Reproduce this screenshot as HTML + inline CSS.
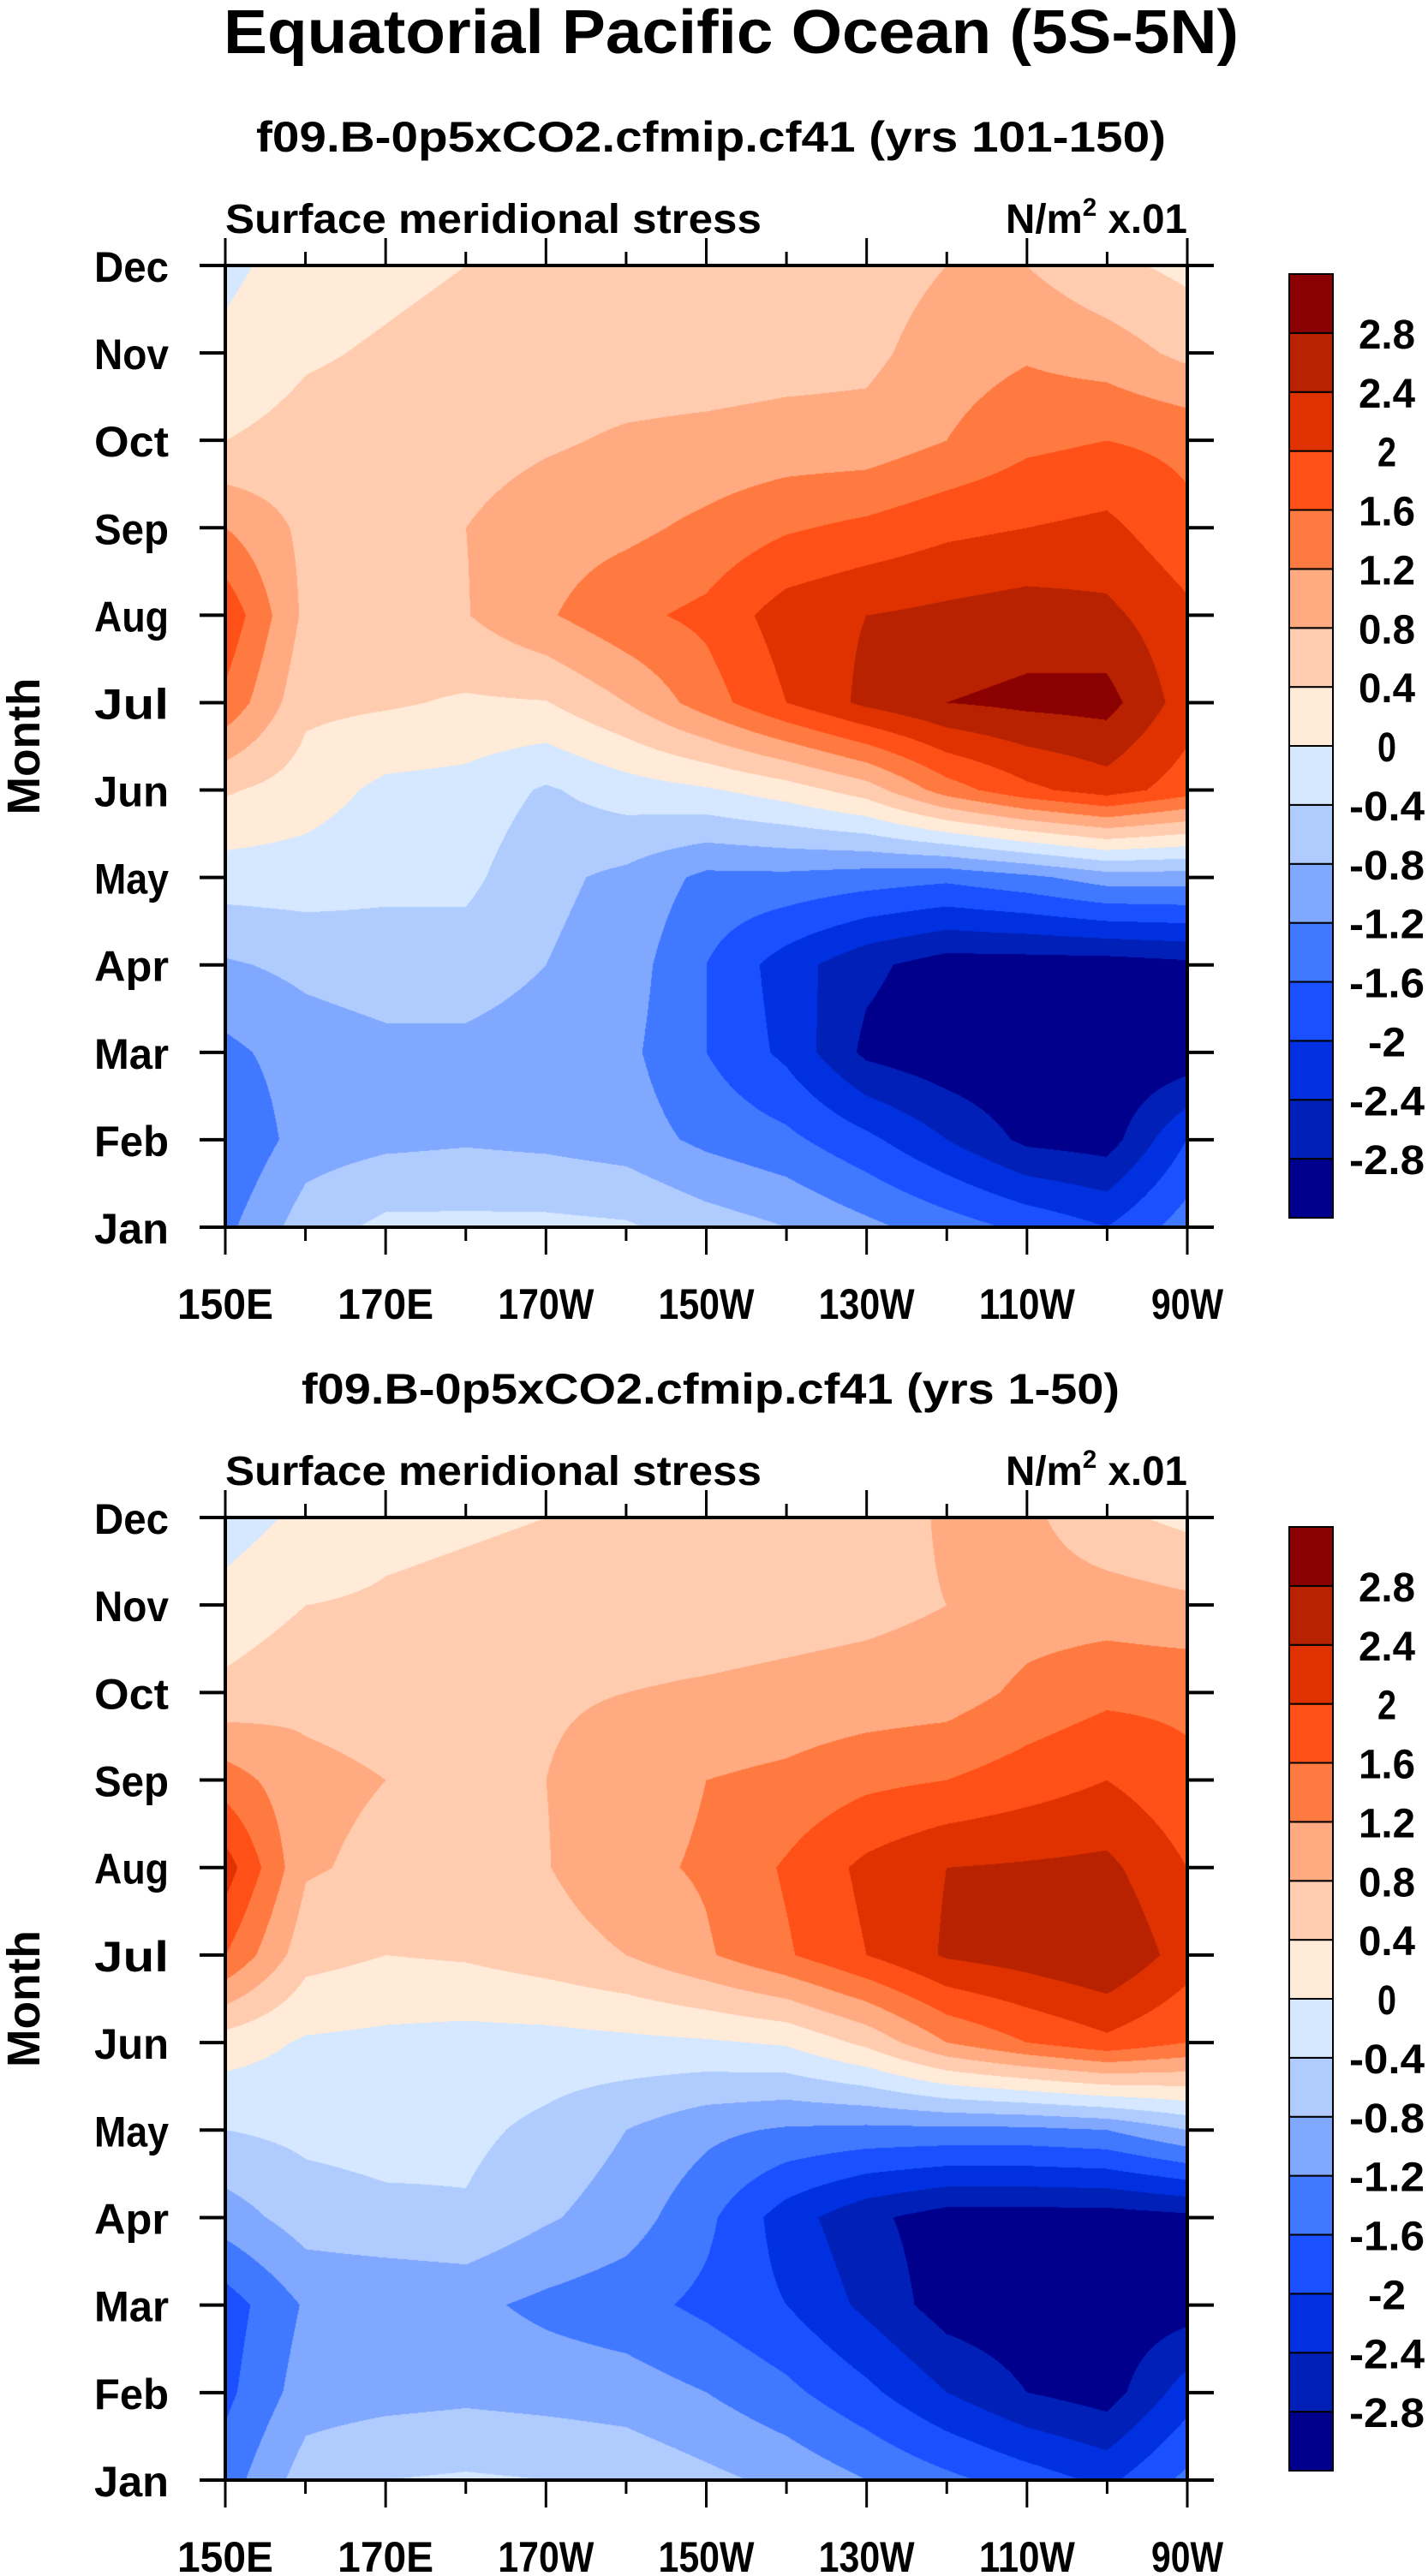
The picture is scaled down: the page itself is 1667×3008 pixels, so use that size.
<!DOCTYPE html>
<html><head><meta charset="utf-8">
<style>
html,body{margin:0;padding:0;background:#fff;}
#wrap{position:relative;width:1667px;height:3008px;overflow:hidden;background:#fff;}
canvas{position:absolute;}
svg{position:absolute;left:0;top:0;}
text{font-family:"Liberation Sans",sans-serif;font-weight:bold;fill:#000;}
</style></head>
<body>
<div id="wrap">
<canvas id="c1" width="1123" height="1123" style="left:263px;top:310px;"></canvas>
<canvas id="c2" width="1123" height="1124" style="left:263px;top:1772px;"></canvas>
<svg id="svg" width="1667" height="3008"></svg>
</div>
<script>
const months = ["Jan","Feb","Mar","Apr","May","Jun","Jul","Aug","Sep","Oct","Nov","Dec"];
const lonLabels = ["150E","170E","170W","150W","130W","110W","90W"];
const levels = [-2.8,-2.4,-2,-1.6,-1.2,-0.8,-0.4,0,0.4,0.8,1.2,1.6,2,2.4,2.8];
const levelLabels = ["-2.8","-2.4","-2","-1.6","-1.2","-0.8","-0.4","0","0.4","0.8","1.2","1.6","2","2.4","2.8"];
const colors = ["#00008c","#0020b8","#0030e0","#1a50ff","#4078ff","#80a8ff","#b0ccff","#d5e8ff","#ffebd8","#ffccb0","#ffaa80","#ff7a40","#ff5018","#e03200","#b82200","#8b0000"];
// longitudes 150E..90W every 10 deg (13 columns); rows Jan..Dec
const dataTop = [
 [-1.3,-0.6,-0.3,-0.3,-0.3,-0.35,-0.6,-0.8,-1.1,-1.4,-1.7,-2.0,-1.4],
 [-1.6,-1.0,-0.9,-0.85,-0.9,-1.0,-1.3,-1.5,-1.9,-2.4,-2.9,-3.0,-2.0],
 [-1.3,-1.0,-0.9,-0.9,-1.0,-1.1,-1.6,-2.1,-2.9,-3.1,-3.2,-3.2,-3.1],
 [-0.85,-0.7,-0.6,-0.6,-0.8,-1.0,-1.6,-2.2,-2.7,-3.0,-3.0,-3.0,-2.9],
 [-0.2,-0.2,-0.3,-0.3,-0.7,-0.9,-1.3,-1.3,-1.4,-1.5,-1.3,-1.0,-1.0],
 [0.45,0.2,-0.1,-0.15,-0.45,-0.2,-0.05,0.2,0.6,1.4,1.9,2.2,1.8],
 [1.5,0.5,0.45,0.35,0.38,0.8,1.4,2.0,2.5,2.8,2.9,2.95,2.2],
 [1.9,0.7,0.6,0.78,1.15,1.5,1.7,2.2,2.4,2.5,2.6,2.5,2.1],
 [1.2,0.7,0.7,0.8,1.0,1.1,1.3,1.55,1.7,1.9,2.0,2.1,1.7],
 [0.4,0.55,0.6,0.65,0.75,0.85,0.9,0.95,0.95,1.2,1.5,1.6,1.5],
 [0.1,0.35,0.45,0.55,0.6,0.6,0.6,0.65,0.7,1.0,1.15,1.0,0.7],
 [-0.1,0.2,0.3,0.4,0.45,0.5,0.55,0.6,0.6,0.8,0.8,0.5,0.3]
];
const dataBottom = [
 [-1.4,-0.6,-0.4,-0.35,-0.4,-0.5,-0.7,-0.9,-1.2,-1.5,-1.8,-2.1,-1.5],
 [-1.7,-1.0,-0.95,-0.9,-0.95,-1.0,-1.2,-1.5,-1.9,-2.4,-2.8,-3.0,-2.2],
 [-1.8,-1.15,-1.15,-1.1,-1.3,-1.45,-1.7,-2.0,-2.5,-3.0,-3.1,-3.1,-3.0],
 [-1.0,-0.6,-0.5,-0.45,-0.75,-1.0,-1.5,-2.2,-2.7,-3.0,-3.0,-3.0,-2.9],
 [-0.4,-0.3,-0.25,-0.3,-0.5,-0.8,-1.1,-1.25,-1.3,-1.3,-1.3,-1.2,-0.8],
 [0.2,-0.05,-0.1,-0.15,-0.15,-0.1,-0.05,0.05,0.5,1.2,1.6,1.9,1.6],
 [1.6,0.55,0.4,0.45,0.6,0.8,1.15,1.55,2.0,2.45,2.6,2.8,2.2],
 [2.2,0.85,0.7,0.7,0.78,1.1,1.25,1.65,2.1,2.4,2.45,2.5,2.0],
 [1.4,0.9,0.8,0.78,0.8,1.0,1.2,1.3,1.5,1.6,1.8,2.0,1.7],
 [0.5,0.7,0.65,0.7,0.75,0.8,0.85,0.9,0.95,1.0,1.3,1.5,1.5],
 [0.15,0.4,0.45,0.5,0.55,0.6,0.6,0.65,0.7,0.8,1.0,1.0,0.9],
 [-0.2,0.1,0.3,0.35,0.4,0.45,0.5,0.55,0.6,0.85,0.9,0.5,0.3]
];

const PL=263, PR=1386, PW=PR-PL;
const NS="http://www.w3.org/2000/svg";
const svg=document.getElementById('svg');
function mk(tag,attrs,parent){const e=document.createElementNS(NS,tag);for(const k in attrs)e.setAttribute(k,attrs[k]);(parent||svg).appendChild(e);return e;}
function txt(s,attrs,name){const t=mk('text',attrs);t.textContent=s;


return t;}
function colorIdx(v){let i=0;while(i<levels.length&&v>=levels[i])i++;return i;}
function hex(c){return [parseInt(c.substr(1,2),16),parseInt(c.substr(3,2),16),parseInt(c.substr(5,2),16)];}
const rgb=colors.map(hex);

function drawField(id,data){
 const cv=document.getElementById(id);const W=cv.width,H=cv.height;
 const ctx=cv.getContext('2d');const img=ctx.createImageData(W,H);
 const nc=data[0].length-1, nr=data.length-1;
 for(let py=0;py<H;py++){
  const fr=(H-1-py)/(H-1)*nr; let r0=Math.floor(fr); if(r0>=nr)r0=nr-1; const ty=fr-r0;
  for(let px=0;px<W;px++){
   const fc=px/(W-1)*nc; let c0=Math.floor(fc); if(c0>=nc)c0=nc-1; const tx=fc-c0;
   const v=(data[r0][c0]*(1-tx)+data[r0][c0+1]*tx)*(1-ty)+(data[r0+1][c0]*(1-tx)+data[r0+1][c0+1]*tx)*ty;
   const c=rgb[colorIdx(v)];const o=(py*W+px)*4;
   img.data[o]=c[0];img.data[o+1]=c[1];img.data[o+2]=c[2];img.data[o+3]=255;
  }
 }
 ctx.putImageData(img,0,0);
}
drawField('c1',dataTop);
drawField('c2',dataBottom);

txt("Equatorial Pacific Ocean (5S-5N)",{x:261,y:62,'font-size':72,textLength:1185,lengthAdjust:'spacingAndGlyphs'},'main-title');

function panel(top,bottom,sub,cbTop,prefix){
 const H=bottom-top;
 const ym=m=>bottom-m*H/11;
 txt(sub,{x:(prefix==='top'?299:352),y:top-133,'font-size':50,textLength:(prefix==='top'?1062:955),lengthAdjust:'spacingAndGlyphs'},prefix+'-subtitle');
 txt("Surface meridional stress",{x:263,y:top-38,'font-size':48,textLength:626,lengthAdjust:'spacingAndGlyphs'},prefix+'-left-string');
 const u=txt("",{x:1174,y:top-38,'font-size':48},prefix+'-units');
 u.innerHTML='N/m<tspan dy="-20" font-size="30">2</tspan><tspan dy="20"> x.01</tspan>';
 u.setAttribute('textLength','212');u.setAttribute('lengthAdjust','spacingAndGlyphs');
 const fr=mk('rect',{x:PL,y:top,width:PW,height:H,fill:'none',stroke:'#000','stroke-width':4});
 
 
 months.forEach((m,i)=>{
  const y=ym(i);
  mk('line',{x1:PL-30,x2:PL,y1:y,y2:y,stroke:'#000','stroke-width':4});
  mk('line',{x1:PR,x2:PR+31,y1:y,y2:y,stroke:'#000','stroke-width':4});
  txt(m,{x:197,y:y+19,'font-size':50,'text-anchor':'end',textLength:m.length*29,lengthAdjust:'spacingAndGlyphs'},prefix+'-month-label');
 });
 for(let k=0;k<=12;k++){
  const x=PL+k*PW/12;const major=k%2===0;
  mk('line',{x1:x,x2:x,y1:top,y2:top-(major?32:16),stroke:'#000','stroke-width':3});
  mk('line',{x1:x,x2:x,y1:bottom,y2:bottom+(major?32:16),stroke:'#000','stroke-width':3});
 }
 lonLabels.forEach((l,i)=>{
  const x=PL+i*PW/6;
  txt(l,{x:x,y:bottom+107,'font-size':50,'text-anchor':'middle',textLength:l.length*28,lengthAdjust:'spacingAndGlyphs'},prefix+'-lon-label');
 });
 txt("Month",{x:0,y:0,'font-size':54,'text-anchor':'middle',transform:`translate(46,${(top+bottom)/2}) rotate(-90)`,textLength:160,lengthAdjust:'spacingAndGlyphs'},prefix+'-y-axis-title');
 const cbH=1102, bh=cbH/16, cx=1505, cw=51;
 for(let i=0;i<16;i++){
  const r=mk('rect',{x:cx,y:cbTop+cbH-(i+1)*bh,width:cw,height:bh,fill:colors[i],stroke:'#000','stroke-width':2});
  
  
 }
 levelLabels.forEach((l,i)=>{
  const y=cbTop+cbH-(i+1)*bh;
  txt(l,{x:1619,y:y+18,'font-size':48,'text-anchor':'middle',textLength:l.length*22,lengthAdjust:'spacingAndGlyphs'},prefix+'-colorbar-label');
 });
}
panel(310,1433,"f09.B-0p5xCO2.cfmip.cf41 (yrs 101-150)",320,'top');
panel(1772,2896,"f09.B-0p5xCO2.cfmip.cf41 (yrs 1-50)",1783,'bottom');
</script>
</body></html>
